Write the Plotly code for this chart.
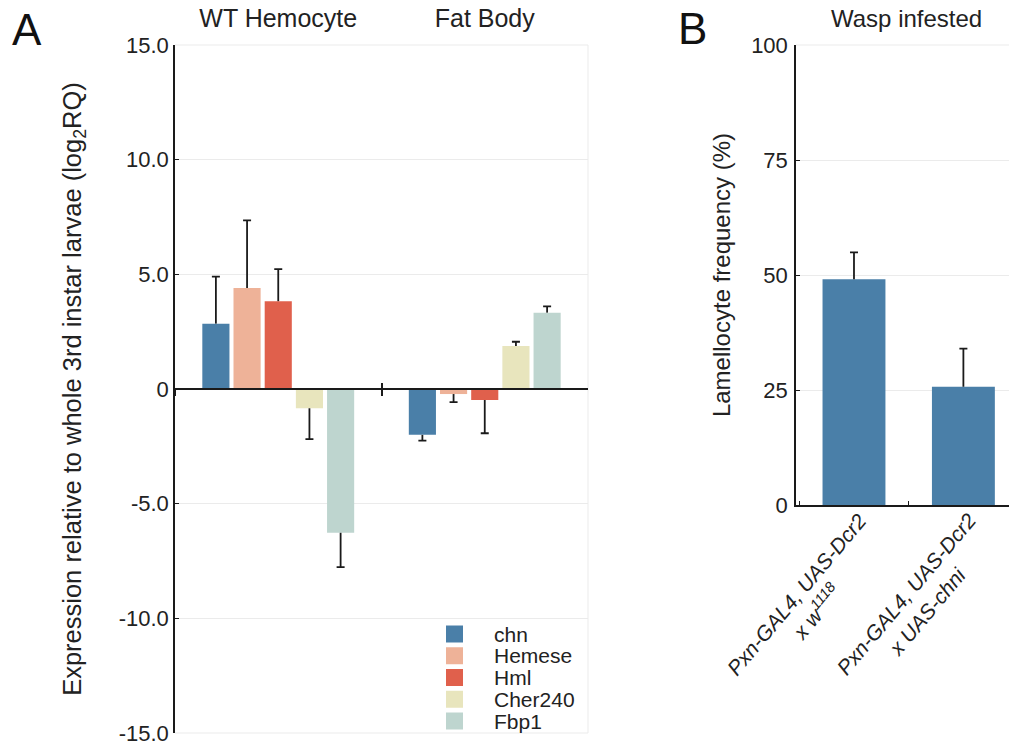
import plotly.graph_objects as go

# page is 1017x744; the html body has an 8px margin, so the figure starts at (8, 8)
PAGE_W, PAGE_H = 1017, 744
OFF = 8
W, H = PAGE_W - OFF, PAGE_H - OFF

# ---------------- data ----------------
groups = ["WT Hemocyte", "Fat Body"]
genes = ["chn", "Hemese", "Hml", "Cher240", "Fbp1"]
gene_colors = ["#4a7fa8", "#eeb298", "#e0604c", "#e8e5bd", "#bed5cf"]
hemocyte_vals = [2.85, 4.4, 3.83, -0.84, -6.27]
hemocyte_err = [2.05, 2.95, 1.4, 1.35, 1.5]
fatbody_vals = [-2.0, -0.22, -0.48, 1.88, 3.33]
fatbody_err = [0.25, 0.35, 1.45, 0.18, 0.27]

a_tickvals = [-15, -10, -5, 0, 5, 10, 15]
a_ticktext = ["-15.0", "-10.0", "-5.0", "0", "5.0", "10.0", "15.0"]

cross_keys = ["w1118", "chni"]
cross_line1 = ["Pxn-GAL4, UAS-Dcr2", "Pxn-GAL4, UAS-Dcr2"]
cross_line2 = ["x w<sup>1118</sup>", "x UAS-chni"]
lamellocyte_freq = [49.1, 25.7]
lamellocyte_err = [5.8, 8.3]
b_tickvals = [0, 25, 50, 75, 100]

# ---------------- helpers ----------------
FONT = "Liberation Sans, Arial, Helvetica, sans-serif"
TXT = "#222222"
GRID = "#ebebeb"
ERR = "#1a1a1a"
ERR_W = 1.8


def px(x):
    return (x - OFF) / W


def py(y):
    return 1 - (y - OFF) / H


A_X = [px(175), px(588)]
A_Y = [py(733), py(45)]
A_RANGE = [-15, 15]
B_X = [px(796), 1.0]
B_Y = [py(505), py(45)]

zero_pos = A_Y[0] + (0 - A_RANGE[0]) / (A_RANGE[1] - A_RANGE[0]) * (A_Y[1] - A_Y[0])

fig = go.Figure()

# ---------------- panel A ----------------
for i, g in enumerate(genes):
    vals = [hemocyte_vals[i], fatbody_vals[i]]
    errs = [hemocyte_err[i], fatbody_err[i]]
    up = [e if v >= 0 else 0 for v, e in zip(vals, errs)]
    dn = [e if v < 0 else 0 for v, e in zip(vals, errs)]
    tips = [v + (e if v >= 0 else -e) for v, e in zip(vals, errs)]
    # coloured bars
    fig.add_trace(go.Bar(
        x=groups, y=vals, name=g, marker_color=gene_colors[i], offsetgroup=g,
        showlegend=False, xaxis="x", yaxis="y"))
    # error stems (one-sided, away from zero)
    fig.add_trace(go.Bar(
        x=groups, y=vals, marker_color="rgba(0,0,0,0)", offsetgroup=g,
        error_y=dict(type="data", symmetric=False, array=up, arrayminus=dn,
                     width=0, thickness=ERR_W, color=ERR),
        showlegend=False, hoverinfo="skip", xaxis="x2", yaxis="y"))
    # caps at the tips of the error bars
    fig.add_trace(go.Bar(
        x=groups, y=tips, marker_color="rgba(0,0,0,0)", offsetgroup=g,
        error_y=dict(type="data", symmetric=False, array=[0, 0], arrayminus=[0, 0],
                     width=4, thickness=ERR_W, color=ERR),
        showlegend=False, hoverinfo="skip", xaxis="x3", yaxis="y"))

# ---------------- panel B ----------------
b_tips = [v + e for v, e in zip(lamellocyte_freq, lamellocyte_err)]
fig.add_trace(go.Bar(
    x=cross_keys, y=lamellocyte_freq, marker_color=gene_colors[0], offsetgroup="b",
    width=0.575,
    error_y=dict(type="data", symmetric=False, array=lamellocyte_err,
                 arrayminus=[0, 0], width=0, thickness=ERR_W, color=ERR),
    showlegend=False, xaxis="x4", yaxis="y2"))
fig.add_trace(go.Bar(
    x=cross_keys, y=b_tips, marker_color="rgba(0,0,0,0)", offsetgroup="b",
    width=0.575,
    error_y=dict(type="data", symmetric=False, array=[0, 0], arrayminus=[0, 0],
                 width=4, thickness=ERR_W, color=ERR),
    showlegend=False, hoverinfo="skip", xaxis="x4", yaxis="y2"))

b_ticktext = [f"<i>{a}</i><br><i>{b}</i>" for a, b in zip(cross_line1, cross_line2)]

cat_common = dict(type="category", categoryorder="array", categoryarray=groups,
                  range=[-0.5, 1.5], showgrid=False, zeroline=False, automargin=False)

fig.update_layout(
    template="none",
    width=W, height=H,
    margin=dict(l=0, r=0, t=0, b=0),
    paper_bgcolor="white", plot_bgcolor="rgba(0,0,0,0)",
    font=dict(family=FONT, color=TXT, size=22),
    barmode="group", bargap=0.245, bargroupgap=0.13,
    showlegend=False,
    xaxis=dict(
        domain=A_X, anchor="y", side="top", showline=False, ticks="",
        tickfont=dict(size=25, color=TXT), ticklabelstandoff=12, **cat_common),
    xaxis2=dict(
        overlaying="x", anchor="free", position=zero_pos, side="bottom",
        tickson="boundaries", ticks="outside", ticklen=6,
        tickwidth=1.5, tickcolor=ERR, showline=True, linecolor=ERR, linewidth=1.6,
        showticklabels=False, **cat_common),
    xaxis3=dict(
        overlaying="x", anchor="free", position=zero_pos, side="bottom",
        tickson="boundaries", ticks="inside", ticklen=6,
        tickwidth=1.5, tickcolor=ERR, showline=False,
        showticklabels=False, **cat_common),
    yaxis=dict(
        domain=A_Y, anchor="x", range=A_RANGE, tickvals=a_tickvals, ticktext=a_ticktext,
        showline=True, linecolor=ERR, linewidth=1.5, ticks="inside", ticklen=4,
        tickwidth=1.3, tickcolor=ERR, showgrid=True, gridcolor=GRID, gridwidth=1,
        zeroline=False, tickfont=dict(size=22, color=TXT), ticklabelstandoff=0,
        ticklabeloverflow="allow",
        title=dict(text="Expression relative to whole 3rd instar larvae (log<sub>2</sub>RQ)",
                   font=dict(size=25.5, color=TXT), standoff=30),
        automargin=False),
    xaxis4=dict(
        domain=B_X, anchor="y2", type="category", categoryorder="array",
        categoryarray=cross_keys, range=[-0.53, 1.49], tickson="boundaries",
        showline=True, linecolor=ERR, linewidth=1.5, ticks="inside", ticklen=4,
        tickwidth=1.3, tickcolor=ERR, showgrid=False, zeroline=False,
        showticklabels=False, automargin=False),
    yaxis2=dict(
        domain=B_Y, anchor="x4", range=[0, 100], tickvals=b_tickvals,
        showline=True, linecolor=ERR, linewidth=1.5, ticks="inside", ticklen=4,
        tickwidth=1.3, tickcolor=ERR, showgrid=True, gridcolor=GRID, gridwidth=1,
        zeroline=False, tickfont=dict(size=22, color=TXT), ticklabelstandoff=2,
        ticklabeloverflow="allow",
        title=dict(text="Lamellocyte frequency (%)", font=dict(size=24, color=TXT),
                   standoff=14),
        automargin=False),
)

# rotated, centred category labels for panel B
for key, label in zip(cross_keys, b_ticktext):
    fig.add_annotation(text=label, xref="x4", yref="y2 domain", x=key, y=0,
                       xanchor="right", yanchor="top", xshift=40, yshift=-1,
                       textangle=-50, align="center", showarrow=False,
                       font=dict(size=21, color=TXT))

# light frame lines of panel A (right, top, bottom) and top of panel B
for xr, yr, x0, x1, y0, y1 in [("x domain", "y domain", 1, 1, 0, 1),
                               ("x domain", "y domain", 0, 1, 1, 1),
                               ("x domain", "y domain", 0, 1, 0, 0),
                               ("x4 domain", "y2 domain", 0, 1, 1, 1)]:
    fig.add_shape(type="line", xref=xr, yref=yr, x0=x0, x1=x1, y0=y0, y1=y1,
                  line=dict(color=GRID, width=1), layer="below")

# manual legend for panel A
for i, g in enumerate(genes):
    cy = 634 + i * 21.75
    fig.add_shape(type="rect", xref="paper", yref="paper",
                  x0=px(446), x1=px(463), y0=py(cy + 8.5), y1=py(cy - 8.5),
                  fillcolor=gene_colors[i], line=dict(width=0))
    fig.add_annotation(text=g, xref="paper", yref="paper", x=px(492), y=py(cy),
                       xanchor="left", yanchor="middle", showarrow=False,
                       font=dict(size=21, color=TXT))

# panel letters and titles
fig.add_annotation(text="A", xref="paper", yref="paper", x=px(27), y=py(30),
                   xanchor="center", yanchor="middle", showarrow=False,
                   font=dict(size=44, color="#111111"))
fig.add_annotation(text="B", xref="paper", yref="paper", x=px(692), y=py(28),
                   xanchor="center", yanchor="middle", showarrow=False,
                   font=dict(size=44, color="#111111"))
fig.add_annotation(text="Wasp infested", xref="paper", yref="paper",
                   x=(B_X[0] + B_X[1]) / 2, y=py(18), xanchor="center", yanchor="middle",
                   showarrow=False, font=dict(size=24, color=TXT))

fig.write_html("out.html")
